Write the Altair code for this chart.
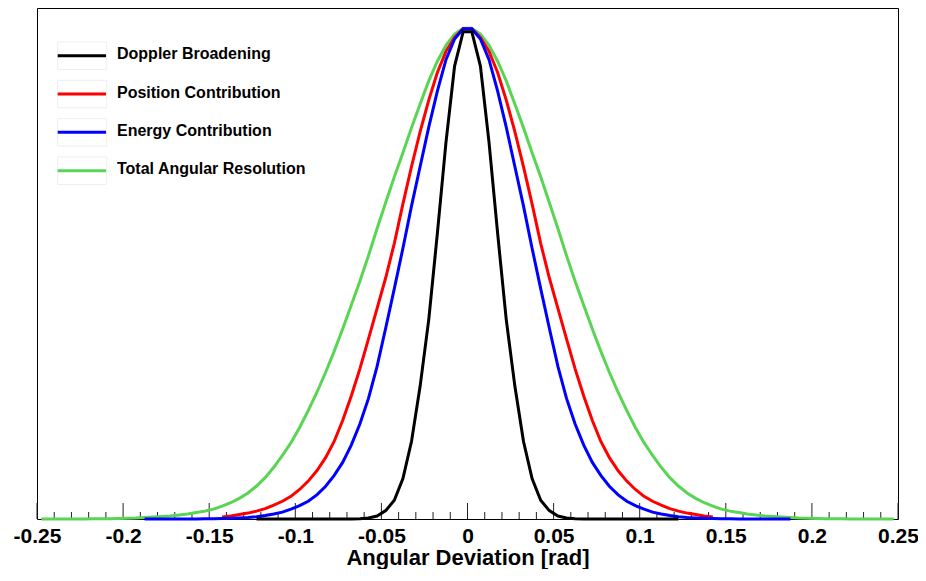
import altair as alt
import pandas as pd

series_names = ["Doppler Broadening", "Position Contribution",
                "Energy Contribution", "Total Angular Resolution"]
series_colors = ["#000000", "#ff0000", "#0000ff", "#59d454"]
draw_order = ["Total Angular Resolution", "Position Contribution",
              "Energy Contribution", "Doppler Broadening"]

# bin centres [rad]
x_bins = [-0.2475, -0.2425, -0.2375, -0.2325, -0.2275, -0.2225, -0.2175, -0.2125, -0.2075, -0.2025,
          -0.1975, -0.1925, -0.1875, -0.1825, -0.1775, -0.1725, -0.1675, -0.1625, -0.1575, -0.1525,
          -0.1475, -0.1425, -0.1375, -0.1325, -0.1275, -0.1225, -0.1175, -0.1125, -0.1075, -0.1025,
          -0.0975, -0.0925, -0.0875, -0.0825, -0.0775, -0.0725, -0.0675, -0.0625, -0.0575, -0.0525,
          -0.0475, -0.0425, -0.0375, -0.0325, -0.0275, -0.0225, -0.0175, -0.0125, -0.0075, -0.0025,
          0.0025, 0.0075, 0.0125, 0.0175, 0.0225, 0.0275, 0.0325, 0.0375, 0.0425, 0.0475,
          0.0525, 0.0575, 0.0625, 0.0675, 0.0725, 0.0775, 0.0825, 0.0875, 0.0925, 0.0975,
          0.1025, 0.1075, 0.1125, 0.1175, 0.1225, 0.1275, 0.1325, 0.1375, 0.1425, 0.1475,
          0.1525, 0.1575, 0.1625, 0.1675, 0.1725, 0.1775, 0.1825, 0.1875, 0.1925, 0.1975,
          0.2025, 0.2075, 0.2125, 0.2175, 0.2225, 0.2275, 0.2325, 0.2375, 0.2425, 0.2475]

doppler = [None, None, None, None, None, None, None, None, None, None,
           None, None, None, None, None, None, None, None, None, None,
           None, None, None, None, None, 0, 0, 0, 0, 0,
           0, 0, 0, 0, 0, 0, 0, 0.0005, 0.002, 0.006,
           0.017, 0.038, 0.082, 0.158, 0.270, 0.405, 0.580, 0.765, 0.920, 0.990,
           0.990, 0.920, 0.765, 0.580, 0.405, 0.270, 0.158, 0.082, 0.038, 0.017,
           0.006, 0.002, 0.0005, 0, 0, 0, 0, 0, 0, 0,
           0, 0, 0, 0, 0, None, None, None, None, None,
           None, None, None, None, None, None, None, None, None, None,
           None, None, None, None, None, None, None, None, None, None]

position = [None, None, None, None, None, None, None, None, None, None,
            None, None, None, None, None, None, None, None, None, None,
            None, 0.004, 0.006, 0.009, 0.012, 0.016, 0.021, 0.028, 0.036, 0.046,
            0.060, 0.077, 0.098, 0.124, 0.157, 0.200, 0.250, 0.305, 0.366, 0.428,
            0.490, 0.560, 0.640, 0.716, 0.787, 0.851, 0.907, 0.950, 0.978, 0.996,
            0.996, 0.978, 0.950, 0.907, 0.851, 0.787, 0.716, 0.640, 0.560, 0.490,
            0.428, 0.366, 0.305, 0.250, 0.200, 0.157, 0.124, 0.098, 0.077, 0.060,
            0.046, 0.036, 0.028, 0.021, 0.016, 0.012, 0.009, 0.006, 0.004, None,
            None, None, None, None, None, None, None, None, None, None,
            None, None, None, None, None, None, None, None, None, None]

energy = [None, None, None, None, None, None, None, None, None, None,
          None, None, 0, 0, 0.0001, 0.0001, 0.0001, 0.0001, 0.0002, 0.0003,
          0.0005, 0.0008, 0.0013, 0.002, 0.003, 0.0045, 0.007, 0.010, 0.014, 0.020,
          0.027, 0.036, 0.049, 0.066, 0.088, 0.115, 0.150, 0.193, 0.245, 0.310,
          0.388, 0.468, 0.550, 0.636, 0.716, 0.796, 0.869, 0.933, 0.975, 0.996,
          0.996, 0.975, 0.933, 0.869, 0.796, 0.716, 0.636, 0.550, 0.468, 0.388,
          0.310, 0.245, 0.193, 0.150, 0.115, 0.088, 0.066, 0.049, 0.036, 0.027,
          0.020, 0.014, 0.010, 0.007, 0.0045, 0.003, 0.002, 0.0013, 0.0008, 0.0005,
          0.0003, 0.0002, 0.0001, 0.0001, 0.0001, 0.0001, 0, 0, None, None,
          None, None, None, None, None, None, None, None, None, None]

total = [0, 0, 0, 0.0001, 0.0001, 0.0002, 0.0003, 0.0005, 0.0007, 0.001,
         0.0015, 0.002, 0.003, 0.004, 0.005, 0.006, 0.008, 0.010, 0.013, 0.016,
         0.020, 0.026, 0.033, 0.042, 0.053, 0.067, 0.084, 0.105, 0.129, 0.155,
         0.186, 0.220, 0.257, 0.297, 0.340, 0.386, 0.434, 0.483, 0.535, 0.590,
         0.643, 0.695, 0.744, 0.795, 0.843, 0.890, 0.930, 0.962, 0.985, 0.997,
         0.997, 0.985, 0.962, 0.930, 0.890, 0.843, 0.795, 0.744, 0.695, 0.643,
         0.590, 0.535, 0.483, 0.434, 0.386, 0.340, 0.297, 0.257, 0.220, 0.186,
         0.155, 0.129, 0.105, 0.084, 0.067, 0.053, 0.042, 0.033, 0.026, 0.020,
         0.016, 0.013, 0.010, 0.008, 0.006, 0.005, 0.004, 0.003, 0.002, 0.0015,
         0.001, 0.0007, 0.0005, 0.0003, 0.0002, 0.0001, 0.0001, 0, 0, 0]

major_ticks = [-0.25, -0.2, -0.15, -0.1, -0.05, 0, 0.05, 0.1, 0.15, 0.2, 0.25]
minor_ticks = [-0.24, -0.23, -0.22, -0.21, -0.19, -0.18, -0.17, -0.16,
               -0.14, -0.13, -0.12, -0.11, -0.09, -0.08, -0.07, -0.06,
               -0.04, -0.03, -0.02, -0.01, 0.01, 0.02, 0.03, 0.04,
               0.06, 0.07, 0.08, 0.09, 0.11, 0.12, 0.13, 0.14,
               0.16, 0.17, 0.18, 0.19, 0.21, 0.22, 0.23, 0.24]

rows = []
for name, vals in zip(series_names, [doppler, position, energy, total]):
    for xv, yv in zip(x_bins, vals):
        if yv is not None:
            rows.append({"series": name, "x": xv, "y": yv})
df = pd.DataFrame(rows)

W, H = 861, 511
FONT = "Liberation Sans"
xscale = alt.Scale(domain=[-0.25, 0.25], nice=False, zero=False)
yscale = alt.Scale(domain=[0, 1.038], nice=False, zero=False)
color = alt.Color("series:N", scale=alt.Scale(domain=series_names, range=series_colors), legend=None)
x_axis = alt.Axis(values=major_ticks, labelExpr="'' + datum.value", title="Angular Deviation [rad]",
                  labelBaseline="alphabetic", labelPadding=23,
                  titleBaseline="alphabetic", titleY=45)

layers = []
for name in draw_order:
    layers.append(
        alt.Chart(df).transform_filter(alt.datum.series == name)
        .mark_line(strokeWidth=3)
        .encode(x=alt.X("x:Q", scale=xscale, axis=x_axis),
                y=alt.Y("y:Q", scale=yscale, axis=None),
                color=color)
    )

tick_major = alt.Chart(pd.DataFrame({"x": major_ticks})).mark_rule(color="#222222", strokeWidth=1).encode(
    x=alt.X("x:Q", scale=xscale, axis=x_axis), y=alt.value(H), y2=alt.value(H - 16))
tick_minor = alt.Chart(pd.DataFrame({"x": minor_ticks})).mark_rule(color="#222222", strokeWidth=1).encode(
    x=alt.X("x:Q", scale=xscale, axis=x_axis), y=alt.value(H), y2=alt.value(H - 7))

leg_df = pd.DataFrame({"series": series_names})
ly = alt.Y("series:N", scale=alt.Scale(type="point", domain=series_names, range=[47.7, 162.7], padding=0),
           axis=None)
leg_box = alt.Chart(leg_df).mark_point(shape="M-1,-0.56H1V0.56H-1Z", size=2401, filled=False,
                                       stroke="#eeeeee", strokeWidth=1, opacity=1).encode(
    x=alt.value(45.2), y=ly)
leg_rule = alt.Chart(leg_df).mark_rule(strokeWidth=3).encode(
    x=alt.value(20.7), x2=alt.value(69), y=ly, color=color)
leg_text = alt.Chart(leg_df).mark_text(align="left", baseline="middle", dy=-1.5, fontSize=16,
                                       fontWeight="bold", font=FONT, color="black").encode(
    x=alt.value(80), y=ly, text="series:N")

chart = (
    alt.layer(tick_minor, tick_major, *layers, leg_box, leg_rule, leg_text)
    .resolve_scale(y="independent")
    .properties(width=W, height=H,
                padding={"left": 29, "top": 0, "right": 20, "bottom": 50},
                autosize=alt.AutoSizeParams(type="none"),
                background="white")
    .configure_view(stroke="black", strokeWidth=1)
    .configure_axis(labelFont=FONT, titleFont=FONT, labelFontWeight="bold", titleFontWeight="bold",
                    labelFontSize=21, titleFontSize=22, labelColor="black", titleColor="black",
                    ticks=False, tickSize=0, domain=False, grid=False, labelFlush=False)
)

chart.save("out.html", embed_options={"renderer": "svg", "actions": False})
